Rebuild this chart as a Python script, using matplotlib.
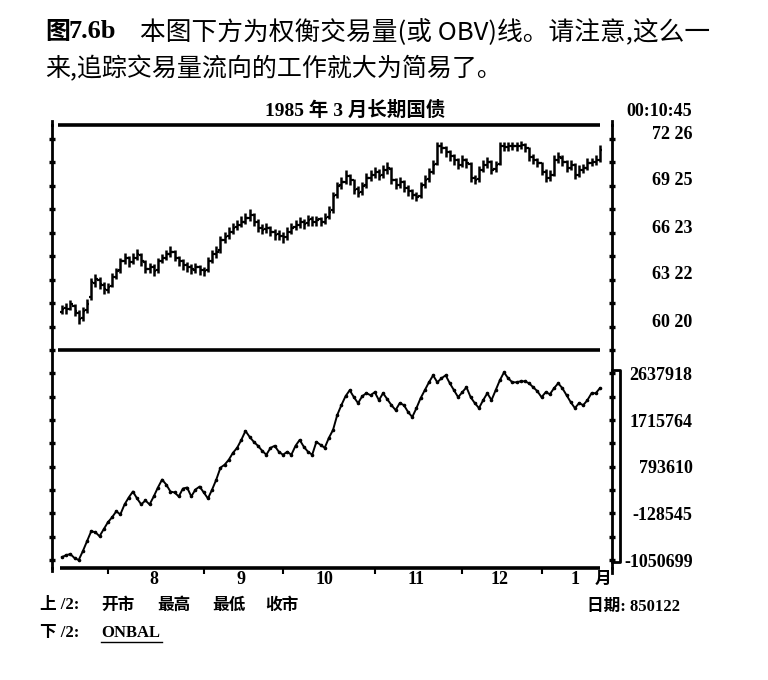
import matplotlib
matplotlib.use("Agg")
import matplotlib.pyplot as plt
from matplotlib.lines import Line2D
from matplotlib.transforms import ScaledTranslation, blended_transform_factory
import numpy as np

plt.rcParams['font.family'] = ['Noto Sans CJK SC', 'DejaVu Sans']

# daily bars, 1985-03 T-bond (price in points)
opens = [61.60, 61.85, 61.80, 62.00, 61.55, 61.20, 61.70, 62.60, 63.45, 63.70,
         63.35, 63.05, 63.30, 63.90, 64.30, 64.90, 65.10, 64.85, 65.10, 65.30,
         64.85, 64.40, 64.50, 64.30, 64.90, 65.10, 65.35, 65.50, 65.10, 64.90,
         64.65, 64.50, 64.35, 64.50, 64.30, 64.30, 64.90, 65.35, 65.60, 66.30,
         66.50, 66.80, 67.10, 67.25, 67.45, 67.70, 67.90, 67.45, 67.05, 66.95,
         67.05, 66.80, 66.65, 66.55, 66.45, 66.80, 67.10, 67.25, 67.45, 67.35,
         67.60, 67.45, 67.60, 67.45, 67.75, 68.20, 69.20, 69.80, 70.05, 70.40,
         70.15, 69.55, 69.35, 69.80, 70.30, 70.50, 70.65, 70.45, 70.80, 70.90,
         70.15, 69.85, 70.00, 69.65, 69.45, 69.20, 69.10, 69.80, 70.20, 70.70,
         71.20, 72.35, 72.20, 71.95, 71.70, 71.45, 71.15, 71.45, 71.20, 70.30,
         70.20, 70.80, 71.10, 71.30, 70.85, 71.20, 72.35, 72.30, 72.35, 72.35,
         72.35, 72.40, 72.20, 71.65, 71.45, 71.25, 70.70, 70.30, 70.50, 71.45,
         71.60, 71.30, 70.95, 71.10, 70.50, 70.80, 70.95, 71.25, 71.30, 71.45]
highs = [62.05, 62.20, 62.40, 62.15, 61.70, 61.95, 62.45, 63.80, 64.05, 63.90,
         63.55, 63.50, 64.10, 64.45, 65.10, 65.40, 65.25, 65.45, 65.70, 65.45,
         64.95, 64.80, 64.70, 65.10, 65.35, 65.60, 65.85, 65.65, 65.25, 65.05,
         64.85, 64.70, 64.80, 64.65, 64.55, 65.15, 65.60, 65.90, 66.55, 66.80,
         67.10, 67.35, 67.55, 67.80, 68.05, 68.30, 68.00, 67.60, 67.30, 67.40,
         67.20, 67.00, 66.90, 66.80, 67.10, 67.35, 67.55, 67.75, 67.65, 67.90,
         67.80, 67.85, 67.75, 68.00, 68.45, 69.40, 70.05, 70.35, 70.80, 70.55,
         70.25, 69.75, 70.05, 70.60, 70.80, 71.00, 70.85, 71.10, 71.30, 71.00,
         70.30, 70.35, 70.15, 69.85, 69.60, 69.40, 70.05, 70.45, 70.95, 71.45,
         72.65, 72.60, 72.35, 72.10, 71.85, 71.60, 71.75, 71.60, 71.30, 70.50,
         71.05, 71.45, 71.65, 71.45, 71.40, 72.60, 72.60, 72.65, 72.60, 72.65,
         72.70, 72.55, 72.30, 71.85, 71.60, 71.35, 70.85, 70.80, 71.75, 71.95,
         71.80, 71.45, 71.45, 71.25, 71.10, 71.20, 71.55, 71.60, 71.75, 72.45]
lows = [61.45, 61.50, 61.70, 61.35, 60.85, 61.05, 61.55, 62.40, 63.25, 63.10,
        62.80, 62.85, 63.20, 63.75, 64.15, 64.70, 64.55, 64.70, 64.95, 64.60,
        64.10, 64.15, 63.95, 64.15, 64.75, 64.95, 65.15, 64.90, 64.60, 64.35,
        64.20, 64.05, 64.15, 64.00, 63.95, 64.20, 64.80, 65.10, 65.45, 66.10,
        66.35, 66.65, 66.90, 67.10, 67.30, 67.50, 67.20, 66.80, 66.65, 66.75,
        66.50, 66.30, 66.25, 66.10, 66.30, 66.65, 66.90, 67.05, 67.00, 67.15,
        67.15, 67.20, 67.15, 67.30, 67.60, 68.05, 69.00, 69.60, 69.90, 69.85,
        69.25, 69.05, 69.20, 69.65, 70.10, 70.30, 70.15, 70.30, 70.55, 69.90,
        69.55, 69.65, 69.35, 69.15, 68.90, 68.80, 69.00, 69.65, 70.05, 70.55,
        71.10, 71.90, 71.65, 71.40, 71.15, 70.85, 71.00, 70.95, 70.05, 69.90,
        70.05, 70.65, 70.95, 70.55, 70.65, 71.10, 72.05, 72.05, 72.10, 72.05,
        72.15, 71.95, 71.40, 71.20, 71.00, 70.45, 70.00, 70.10, 70.40, 71.25,
        71.05, 70.65, 70.80, 70.20, 70.35, 70.60, 70.80, 71.05, 71.15, 71.35]
closes = [61.78, 61.78, 62.10, 61.65, 61.13, 61.65, 62.10, 63.52, 63.72, 63.39,
          63.07, 63.20, 63.84, 64.23, 64.88, 65.13, 64.81, 65.13, 65.33, 64.88,
          64.36, 64.49, 64.23, 64.88, 65.13, 65.33, 65.52, 65.13, 64.88, 64.62,
          64.49, 64.36, 64.49, 64.30, 64.23, 64.88, 65.33, 65.52, 66.30, 66.49,
          66.81, 67.07, 67.26, 67.46, 67.72, 67.91, 67.46, 67.07, 66.94, 67.07,
          66.81, 66.62, 66.55, 66.43, 66.81, 67.07, 67.26, 67.46, 67.33, 67.59,
          67.46, 67.59, 67.46, 67.72, 68.10, 69.13, 69.78, 70.04, 70.43, 70.17,
          69.52, 69.33, 69.78, 70.30, 70.49, 70.68, 70.43, 70.81, 70.94, 70.17,
          69.84, 70.04, 69.65, 69.46, 69.20, 69.07, 69.78, 70.17, 70.68, 71.13,
          72.36, 72.23, 71.97, 71.72, 71.46, 71.13, 71.46, 71.26, 70.30, 70.17,
          70.81, 71.13, 71.33, 70.81, 71.13, 72.36, 72.30, 72.36, 72.36, 72.36,
          72.43, 72.23, 71.65, 71.46, 71.26, 70.68, 70.30, 70.49, 71.46, 71.65,
          71.33, 70.94, 71.13, 70.49, 70.81, 70.94, 71.26, 71.33, 71.46, 72.10]

# on-balance volume (ONBAL)
obv = [-992000, -953000, -933000, -1011000, -1051000, -874000, -678000, -482000, -501000, -580000,
       -442000, -305000, -207000, -89000, -148000, 48000, 185000, 303000, 166000, 48000,
       127000, 48000, 205000, 382000, 539000, 440000, 303000, 284000, 205000, 362000,
       382000, 205000, 342000, 401000, 284000, 166000, 342000, 539000, 774000, 833000,
       931000, 1068000, 1166000, 1323000, 1500000, 1382000, 1284000, 1206000, 1108000, 1029000,
       1166000, 1206000, 1088000, 1029000, 1088000, 1029000, 1206000, 1323000, 1186000, 1088000,
       1029000, 1284000, 1225000, 1166000, 1363000, 1520000, 1814000, 2010000, 2187000, 2304000,
       2167000, 2049000, 2187000, 2246000, 2206000, 2265000, 2108000, 2246000, 2128000, 2010000,
       1912000, 2049000, 2010000, 1873000, 1775000, 1951000, 2147000, 2304000, 2461000, 2599000,
       2461000, 2540000, 2599000, 2442000, 2304000, 2167000, 2265000, 2363000, 2167000, 2049000,
       1951000, 2108000, 2246000, 2108000, 2304000, 2501000, 2658000, 2540000, 2461000, 2461000,
       2481000, 2481000, 2442000, 2363000, 2285000, 2167000, 2265000, 2226000, 2344000, 2442000,
       2344000, 2206000, 2069000, 1951000, 2049000, 2010000, 2108000, 2246000, 2246000, 2344000]

price_ticks = [60.625, 63.6875, 66.71875, 69.78125, 72.8125]
price_labels = ['60 20', '63 22', '66 23', '69 25', '72 26']
obv_ticks = [-1050699, -128545, 793610, 1715764, 2637918]
obv_labels = ['-1050699', '-128545', '793610', '1715764', '2637918']
month_starts = [11, 34, 53, 75, 96, 115]
month_pos = [22, 43, 63, 85, 105, 123]
month_labels = ['8', '9', '10', '11', '12', '1']

days = np.arange(len(closes))
serif = 'Liberation Serif'
mixed = ['Liberation Serif', 'Noto Sans CJK SC']

fig = plt.figure(figsize=(7.68, 6.8), dpi=100)
L, W = 52 / 768, 560 / 768
ax1 = fig.add_axes([L, 1 - 350 / 680, W, 225 / 680])
ax2 = fig.add_axes([L, 1 - 568 / 680, W, 218 / 680])

# --- price bars
ax1.vlines(days, lows, highs, color='black', lw=1.8)
ax1.hlines(opens, days - 0.55, days, color='black', lw=1.6)
ax1.hlines(closes, days, days + 0.55, color='black', lw=1.6)
ax1.set_ylim(59.14, 73.72)

# --- OBV line
ax2.plot(days, obv, color='black', lw=1.4, marker='o', ms=1.6)
ax2.set_ylim(-1207659, 3098995)

for ax in (ax1, ax2):
    ax.set_xlim(-2.4, 131.9)
    ax.spines['top'].set_visible(False)
    ax.spines['bottom'].set_visible(False)
    ax.spines['left'].set_linewidth(2)
    ax.spines['right'].set_linewidth(2)
    ax.tick_params(axis='y', which='both', direction='inout', length=4, width=2.4,
                   left=True, right=True, labelleft=False, labelright=True,
                   labelsize=13, pad=56)
    ax.set_facecolor('none')

ax1.set_xticks([])
ax1.set_yticks(price_ticks)
ax1.set_yticklabels(price_labels)
ax1.set_yticks([(a + b) / 2 for a, b in zip(price_ticks[:-1], price_ticks[1:])], minor=True)

ax2.set_yticks(obv_ticks)
ax2.set_yticklabels(obv_labels)
ax2.set_yticks([(a + b) / 2 for a, b in zip(obv_ticks[:-1], obv_ticks[1:])] + [3098995], minor=True)

lift = ScaledTranslation(0, 0.07, fig.dpi_scale_trans)
for lab in ax1.get_yticklabels():
    lab.set_ha('right')
    lab.set_family(serif)
    lab.set_weight('bold')
    lab.set_transform(lab.get_transform() + lift)
for lab in ax2.get_yticklabels():
    lab.set_ha('right')
    lab.set_family(serif)
    lab.set_weight('bold')

ax2.set_xticks(month_starts)
ax2.set_xticklabels([])
ax2.set_xticks(month_pos, minor=True)
ax2.set_xticklabels(month_labels, minor=True, family=serif, weight='bold', fontsize=13)
ax2.tick_params(axis='x', which='major', direction='out', length=4, width=1.5)
ax2.tick_params(axis='x', which='minor', length=0, pad=2)

# heavy horizontal frame lines
kw = dict(color='black', lw=2.6, solid_capstyle='butt', clip_on=False)
ax1.plot([0.011, 0.979], [1, 1], transform=ax1.transAxes, **kw)
ax1.plot([0.011, 0.979], [0, 0], transform=ax1.transAxes, **kw)
ax2.plot([0.014, 0.979], [0, 0], transform=ax2.transAxes, **kw)

# spine extensions
ax1.plot([0, 0], [1, 1.02], transform=ax1.transAxes, color='black', lw=2, clip_on=False)
ax1.plot([1, 1], [1, 1.02], transform=ax1.transAxes, color='black', lw=2, clip_on=False)
ax2.plot([0, 0], [0, -0.012], transform=ax2.transAxes, color='black', lw=2, clip_on=False)
ax2.plot([1, 1], [0, -0.025], transform=ax2.transAxes, color='black', lw=2, clip_on=False)

# bracket beside the OBV scale
bt = blended_transform_factory(ax2.transAxes, ax2.transData)
ax2.plot([1.0, 1.014, 1.014, 1.0], [obv_ticks[-1] + 60000, obv_ticks[-1] + 60000,
                                    obv_ticks[0] - 40000, obv_ticks[0] - 40000],
         transform=bt, color='black', lw=2, clip_on=False)

# --- texts
fig.text(45 / 768, 1 - 32 / 680, '图', fontsize=18, weight='bold', va='center')
fig.text(68 / 768, 1 - 32 / 680, '7.6b', family=serif, fontsize=19, weight='bold', va='center')
fig.text(140 / 768, 1 - 32 / 680, '本图下方为权衡交易量(或 OBV)线。请注意,这么一',
         fontsize=18.5, va='center')
fig.text(45 / 768, 1 - 69 / 680, '来,追踪交易量流向的工作就大为简易了。', fontsize=18, va='center')

fig.text(355 / 768, 1 - 110 / 680, '1985 年 3 月长期国债', family=mixed, weight='bold',
         fontsize=14, ha='center', va='center')
fig.text(692 / 768, 1 - 112 / 680, '00:10:45', family=serif, weight='bold', fontsize=13,
         ha='right', va='center')
fig.text(603 / 768, 1 - 579 / 680, '月', weight='bold', fontsize=12, ha='center', va='center')

fig.text(40 / 768, 1 - 605 / 680, '上 /2:', family=mixed, weight='bold', fontsize=12, va='center')
for name, xp in zip(['开市', '最高', '最低', '收市'], [101, 157, 212, 265]):
    fig.text(xp / 768, 1 - 605 / 680, name, weight='bold', fontsize=12, va='center')
fig.text(587 / 768, 1 - 607 / 680, '日期: 850122', family=mixed, weight='bold', fontsize=12,
         va='center')
fig.text(40 / 768, 1 - 633 / 680, '下 /2:', family=mixed, weight='bold', fontsize=12, va='center')
fig.text(101 / 768, 1 - 633 / 680, 'ONBAL', family=serif, weight='bold', fontsize=12, va='center')
fig.add_artist(Line2D([101 / 768, 162 / 768], [1 - 642 / 680] * 2, color='black', lw=1))

fig.savefig('out.png', dpi=100)
